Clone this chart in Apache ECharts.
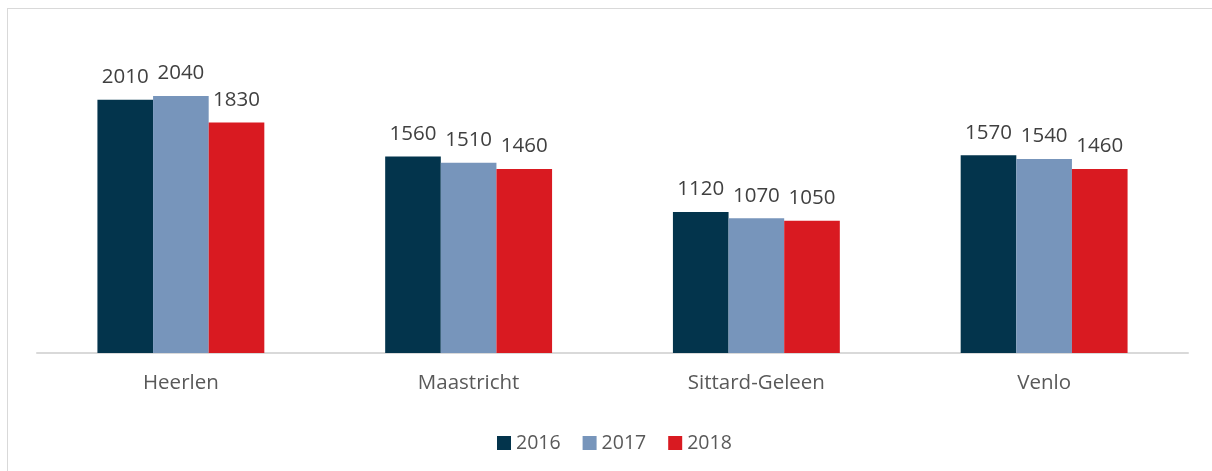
<!DOCTYPE html>
<html>
<head>
<meta charset="utf-8">
<script src="https://cdn.jsdelivr.net/npm/echarts@6/dist/echarts.min.js"></script>
<style>
  html, body { margin: 0; padding: 0; background: #fff; overflow: hidden; }
  #frame { position: absolute; left: 7px; top: 8px; width: 1220px; height: 480px; border: 1px solid #d9d9d9; }
  #chart { position: absolute; left: 0; top: 0; width: 1212px; height: 471px; }
</style>
</head>
<body>
<div id="frame"></div>
<div id="chart"></div>
<script>
// 数据
var categories = ["Heerlen", "Maastricht", "Sittard-Geleen", "Venlo"];
var years = ["2016", "2017", "2018"];
var values2016 = [2010, 1560, 1120, 1570];
var values2017 = [2040, 1510, 1070, 1540];
var values2018 = [1830, 1460, 1050, 1460];
var colors = ["#03344c", "#7795bb", "#d91a21"];

var font = "'Open Sans', 'Noto Sans', sans-serif";

function makeSeries(name, data, color) {
  return {
    name: name,
    type: "bar",
    data: data,
    barGap: "0%",
    barCategoryGap: "42%",
    itemStyle: { color: color },
    label: {
      show: true,
      position: "top",
      distance: 12,
      color: "#404040",
      fontSize: 20.5,
      fontFamily: font,
    },
  };
}

var myChart = echarts.init(document.getElementById("chart"));
myChart.setOption({
  animation: false,
  grid: { left: 37, right: 24, top: 38, bottom: 118 },
  legend: {
    data: years,
    left: 492,
    top: 428,
    itemWidth: 14,
    itemHeight: 14,
    itemGap: 22,
    icon: "rect",
    textStyle: { color: "#595959", fontSize: 19.5, fontFamily: font },
  },
  xAxis: {
    type: "category",
    data: categories,
    axisLine: { lineStyle: { color: "#d9d9d9", width: 2 } },
    axisTick: { show: false },
    axisLabel: { color: "#595959", fontSize: 20.5, fontFamily: font, margin: 20 },
  },
  yAxis: {
    type: "value",
    min: 0,
    max: 2500,
    show: false,
    splitLine: { show: false },
  },
  series: [
    makeSeries(years[0], values2016, colors[0]),
    makeSeries(years[1], values2017, colors[1]),
    makeSeries(years[2], values2018, colors[2]),
  ],
});
window.addEventListener("resize", function () {
  myChart.resize();
});
</script>
</body>
</html>
